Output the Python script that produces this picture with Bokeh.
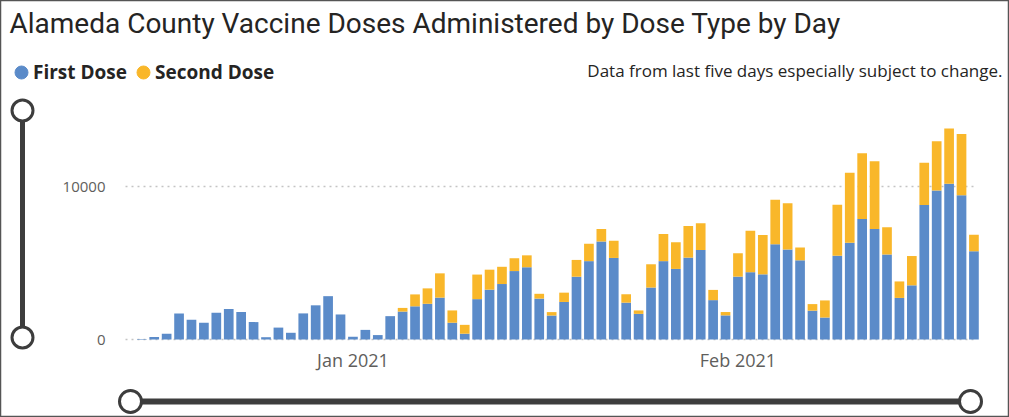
import pandas as pd
from bokeh.plotting import figure
from bokeh.models import (Range1d, DatetimeAxis, LinearAxis, FixedTicker,
                          DatetimeTickFormatter, Label, Legend, LegendItem,
                          ColumnDataSource)
from bokeh.embed import file_html
from bokeh.resources import INLINE

# ---------------- data ----------------
TITLE = "Alameda County Vaccine Doses Administered by Dose Type by Day"
NOTE = "Data from last five days especially subject to change."
START_DATE = "2020-12-15"
series_names = ["First Dose", "Second Dose"]
first_dose = [40, 160, 380, 1700, 1300, 1100, 1760, 2000, 1800, 1140,
              150, 780, 440, 1710, 2240, 2840, 1640, 180, 630, 290,
              1530, 1830, 2175, 2340, 2745, 1100, 380, 2645, 3265, 3635,
              4485, 4735, 2680, 1570, 2460, 4115, 5135, 6430, 5345, 2415,
              1680, 3405, 5135, 4625, 5365, 5865, 2580, 1580, 4120, 4410,
              4270, 6250, 5890, 5190, 1890, 1440, 5490, 6340, 7890, 7240,
              5570, 2725, 3550, 8810, 9770, 10200, 9460, 5780]
second_dose = [0, 0, 0, 0, 0, 0, 0, 0, 0, 0,
               0, 0, 0, 0, 0, 0, 0, 0, 0, 0,
               0, 240, 780, 1010, 1590, 805, 580, 1610, 1310, 1130,
               840, 780, 315, 225, 610, 1100, 1145, 810, 1130, 550,
               225, 1525, 1775, 1745, 2070, 1745, 670, 220, 1530, 2710,
               2580, 2910, 3040, 840, 430, 1120, 3340, 4580, 4310, 4440,
               1790, 1080, 1920, 2780, 3220, 3620, 4010, 1090]
x_tick_dates = ["2021-01-01", "2021-02-01"]
y_ticks = [0, 10000]

# ---------------- style / layout ----------------
COLORS = ["#5b8bc9", "#f9b72a"]
W, H = 1009, 417
DAY = 86400000.0
PX_FIRST = 141.3      # pixel centre of first bar
PX_PER_DAY = 12.42
Y0_PX = 339.0         # pixel of value 0
PX_PER_UNIT = 0.01526

dates = pd.date_range(START_DATE, periods=len(first_dose), freq="D")
t0 = pd.Timestamp(START_DATE).value / 1e6
x_start = t0 - PX_FIRST / PX_PER_DAY * DAY
x_end = x_start + W / PX_PER_DAY * DAY
y_start = -(H - Y0_PX) / PX_PER_UNIT
y_end = y_start + H / PX_PER_UNIT


def px2x(px):
    return x_start + px / W * (x_end - x_start)


def py2y(py):
    return y_end - py / H * (y_end - y_start)


source = ColumnDataSource(dict(date=dates, first=first_dose, second=second_dose))

p = figure(width=W, height=H, x_axis_type=None, y_axis_type=None,
           x_range=Range1d(x_start, x_end), y_range=Range1d(y_start, y_end),
           output_backend="svg", toolbar_location=None, min_border=0)
p.background_fill_color = "white"
p.border_fill_color = "white"
p.outline_line_color = "#555555"
p.outline_line_width = 1.5

# axes (fixed inside the canvas)
xaxis = DatetimeAxis(fixed_location=0,
                     ticker=FixedTicker(ticks=[pd.Timestamp(d).value / 1e6 for d in x_tick_dates]),
                     formatter=DatetimeTickFormatter(days="%b %Y", months="%b %Y", years="%b %Y"))
xaxis.axis_line_color = None
xaxis.major_tick_out = 0
xaxis.major_tick_in = 0
xaxis.minor_tick_line_color = None
xaxis.major_label_standoff = 8
xaxis.major_label_text_font = "Open Sans"
xaxis.major_label_text_font_size = "18px"
xaxis.major_label_text_color = "#605e5c"
p.add_layout(xaxis, "below")

yaxis = LinearAxis(fixed_location=px2x(125), ticker=FixedTicker(ticks=y_ticks))
yaxis.level = "underlay"
yaxis.axis_line_color = None
yaxis.major_tick_out = 0
yaxis.major_tick_in = 850
yaxis.major_tick_line_color = "#c4c4c4"
yaxis.major_tick_line_dash = "2 4"
yaxis.major_tick_line_width = 1.5
yaxis.minor_tick_line_color = None
yaxis.major_label_standoff = 20
yaxis.major_label_text_font = "Open Sans"
yaxis.major_label_text_font_size = "15px"
yaxis.major_label_text_color = "#605e5c"
p.add_layout(yaxis, "left")

# stacked bars
p.vbar_stack(["first", "second"], x="date", width=0.78 * DAY, color=COLORS,
             line_color=None, source=source)

# legend: round markers at the legend slots plus legend labels
LEG_Y = 72
dot1 = p.scatter(x=[px2x(21)], y=[py2y(LEG_Y)], marker="circle", size=13,
                 color=COLORS[0])
dot2 = p.scatter(x=[px2x(143)], y=[py2y(LEG_Y)], marker="circle", size=13,
                 color=COLORS[1])
legend = Legend(items=[LegendItem(label=series_names[0], renderers=[dot1]),
                       LegendItem(label=series_names[1], renderers=[dot2])],
                orientation="horizontal", location=(14, H - LEG_Y - 16),
                glyph_width=14, glyph_height=32, label_standoff=5, spacing=9,
                padding=0, margin=0, border_line_color=None,
                background_fill_alpha=0,
                label_text_font="Open Sans", label_text_font_style="bold",
                label_text_font_size="19px", label_text_color="#252423")
p.add_layout(legend)

# title and note
p.add_layout(Label(x=px2x(9), y=py2y(23), text=TITLE, text_font="Roboto",
                   text_font_size="28px", text_color="#252423",
                   text_baseline="middle", text_align="left"))
p.add_layout(Label(x=px2x(1002), y=py2y(70), text=NOTE, text_font="Open Sans",
                   text_font_size="17px", text_color="#252423",
                   text_baseline="middle", text_align="right"))

# range slider decorations
SL = "#3d3d3d"
p.segment(x0=[px2x(22)], y0=[py2y(110)], x1=[px2x(22)], y1=[py2y(337)],
          line_color=SL, line_width=5)
p.scatter(x=[px2x(22), px2x(22)], y=[py2y(110), py2y(337)], marker="circle",
          size=21, fill_color="white", line_color=SL, line_width=3)
p.segment(x0=[px2x(130)], y0=[py2y(401)], x1=[px2x(970)], y1=[py2y(401)],
          line_color=SL, line_width=6)
p.scatter(x=[px2x(130), px2x(970)], y=[py2y(401), py2y(401)], marker="circle",
          size=22, fill_color="white", line_color=SL, line_width=3)

open("out.html", "w").write(file_html(p, INLINE))
